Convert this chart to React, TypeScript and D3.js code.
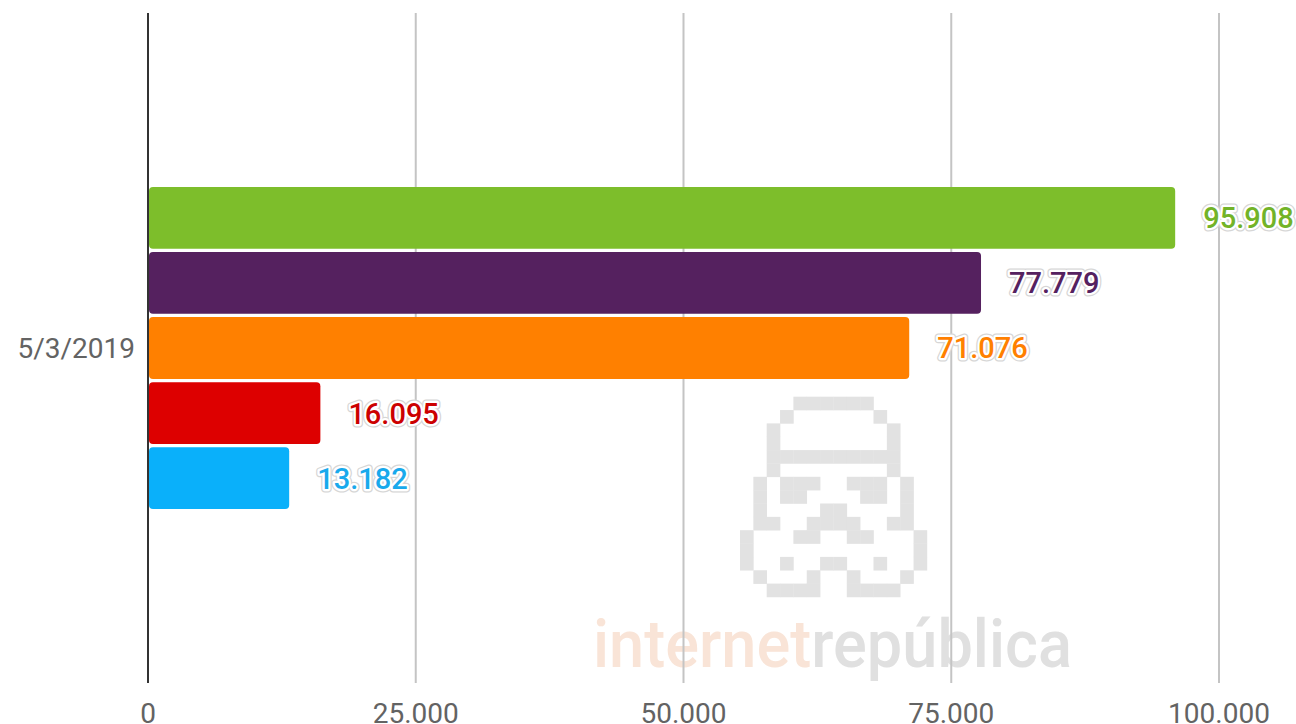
import * as d3 from "d3";
import { useEffect, useRef } from "react";

const categories = ["5/3/2019"];
const seriesKeys = ["s1", "s2", "s3", "s4", "s5"];
const seriesValues = [95908, 77779, 71076, 16095, 13182];
const barColors = ["#7dbe2b", "#55215f", "#ff8000", "#dd0000", "#0ab0fa"];
const labelColors = ["#72b328", "#55215f", "#ff8000", "#cc0000", "#18a9ec"];
const xTicks = [0, 25000, 50000, 75000, 100000];

// watermark pixel icon (14 x 15)
const iconRows = [
  "....######....",
  "...#......#...",
  "..#........#..",
  "..#........#..",
  "..##########..",
  "..#........#..",
  ".#.###..###.#.",
  ".#.##....##.#.",
  ".#....##....#.",
  ".##..####..##.",
  "#...##..##...#",
  "#............#",
  "#..#..##..#..#",
  ".#...#..#...#.",
  "..####..####..",
];

const width = 1296;
const height = 724;

export default function App() {
  const svgRef = useRef<SVGSVGElement>(null);

  useEffect(() => {
    if (!svgRef.current) return;
    const svg = d3.select(svgRef.current);
    svg.selectAll("*").remove();

    const margin = { top: 13, right: 77, bottom: 41, left: 148 };
    const innerWidth = width - margin.left - margin.right;
    const innerHeight = height - margin.top - margin.bottom;

    const locale = d3.formatLocale({
      decimal: ",",
      thousands: ".",
      grouping: [3],
      currency: ["", ""],
    });
    const fmt = locale.format(",d");

    const xScale = d3.scaleLinear().domain([0, 100000]).range([0, innerWidth]);
    const yScale = d3
      .scaleBand<string>()
      .domain(categories)
      .range([0, innerHeight])
      .paddingInner(0)
      .paddingOuter(0.54);
    const ySub = d3
      .scaleBand<string>()
      .domain(seriesKeys)
      .range([0, yScale.bandwidth()])
      .paddingInner(0.05);

    svg.append("rect").attr("width", width).attr("height", height).style("fill", "#fff");

    // Watermark
    const wm = svg.append("g");
    const px = 13.35;
    const iconX = 740;
    const iconY = 396.7;
    iconRows.forEach((row, r) => {
      row.split("").forEach((c, col) => {
        if (c !== "#") return;
        wm.append("rect")
          .attr("x", iconX + col * px)
          .attr("y", iconY + r * px)
          .attr("width", px + 0.3)
          .attr("height", px + 0.3)
          .style("fill", "#e2e2e2");
      });
    });
    const wmText = wm
      .append("text")
      .attr("x", 593)
      .attr("y", 667)
      .attr("textLength", 479)
      .attr("lengthAdjust", "spacingAndGlyphs")
      .style("font-family", "Roboto, 'Noto Sans', sans-serif")
      .style("font-weight", 500)
      .style("font-size", "66px");
    wmText.append("tspan").style("fill", "#f9e4d7").text("internet");
    wmText.append("tspan").style("fill", "#e0e0e0").text("república");

    const g = svg.append("g").attr("transform", `translate(${margin.left},${margin.top})`);

    // Grid lines
    g.append("g")
      .selectAll("line")
      .data(xTicks.slice(1))
      .join("line")
      .attr("x1", (d) => xScale(d))
      .attr("x2", (d) => xScale(d))
      .attr("y1", 0)
      .attr("y2", innerHeight)
      .style("stroke", "#c4c4c4")
      .style("stroke-width", 2);

    // Bars
    const band = g.append("g").attr("transform", `translate(0,${yScale(categories[0])})`);
    band
      .selectAll("rect")
      .data(seriesValues)
      .join("rect")
      .attr("x", 1)
      .attr("y", (_, i) => ySub(seriesKeys[i])!)
      .attr("width", (d) => xScale(d) - 1)
      .attr("height", ySub.bandwidth())
      .attr("rx", 4)
      .style("fill", (_, i) => barColors[i]);

    // Value labels: grey outer halo, white inner halo, coloured fill
    const labelLayer = (stroke: string, sw: number) =>
      band
        .append("g")
        .selectAll("text")
        .data(seriesValues)
        .join("text")
        .attr("x", (d) => xScale(d) + 28)
        .attr("y", (_, i) => ySub(seriesKeys[i])! + ySub.bandwidth() / 2)
        .attr("dy", "0.36em")
        .style("font-family", "Roboto, sans-serif")
        .style("font-weight", 500)
        .style("font-size", "29px")
        .style("fill", (_, i) => labelColors[i])
        .style("stroke", stroke)
        .style("stroke-width", sw)
        .style("stroke-linejoin", "round")
        .style("paint-order", "stroke")
        .text((d) => fmt(d));
    labelLayer("#d6d6d6", 7);
    labelLayer("#ffffff", 4.5);

    // Y axis line
    g.append("line")
      .attr("x1", 0)
      .attr("x2", 0)
      .attr("y1", 0)
      .attr("y2", innerHeight)
      .style("stroke", "#333")
      .style("stroke-width", 2);

    // Category label
    g.append("text")
      .attr("x", -13)
      .attr("y", yScale(categories[0])! + yScale.bandwidth() / 2)
      .attr("dy", "0.36em")
      .attr("text-anchor", "end")
      .style("font-family", "Roboto, sans-serif")
      .style("font-size", "28px")
      .style("fill", "#636363")
      .text(categories[0]);

    // X tick labels
    g.append("g")
      .selectAll("text")
      .data(xTicks)
      .join("text")
      .attr("x", (d) => xScale(d))
      .attr("y", innerHeight + 30)
      .attr("dy", "0.36em")
      .attr("text-anchor", "middle")
      .style("font-family", "Roboto, sans-serif")
      .style("font-size", "28px")
      .style("fill", "#636363")
      .text((d) => fmt(d));
  }, []);

  return (
    <svg
      ref={svgRef}
      width={width}
      height={height}
      style={{ position: "absolute", left: 0, top: 0 }}
    />
  );
}
